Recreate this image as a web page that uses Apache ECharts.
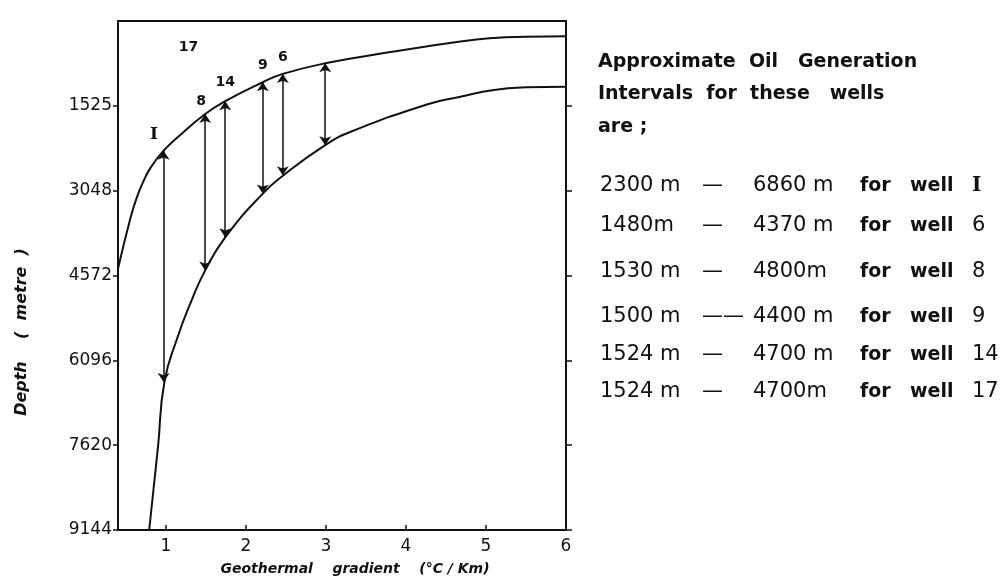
<!DOCTYPE html>
<html><head><meta charset="utf-8">
<script src="https://cdn.jsdelivr.net/npm/echarts@6/dist/echarts.min.js"></script>
<style>html,body{margin:0;padding:0;background:#fff}#c{width:1007px;height:577px}</style>
</head><body><div id="c"></div>
<script>
// ---- data ----
const xTickValues = [1, 2, 3, 4, 5, 6];
const depthTickValues = [1524, 3048, 4572, 6096, 7620, 9144];
const depthTickLabels = ['1525', '3048', '4572', '6096', '7620', '9144'];

// upper curve (top of oil generation window)
const upperX     = [0.40, 0.55, 0.63, 0.72, 0.81, 0.97, 1.16, 1.49, 1.74, 2.21, 2.46, 2.99, 3.87, 4.68, 5.10, 5.50, 6.00];
const upperDepth = [4450, 3570, 3190, 2875, 2630, 2330, 2070, 1670, 1440, 1100, 950, 760, 545, 367, 305, 282, 272];

// lower curve (base of oil generation window)
const lowerX     = [0.79, 0.90, 0.98, 1.14, 1.32, 1.49, 1.74, 2.21, 2.47, 2.99, 3.31, 4.26, 4.68, 5.10, 5.50, 6.00];
const lowerDepth = [9144, 7650, 6485, 5700, 5020, 4480, 3886, 3100, 2770, 2230, 1990, 1500, 1361, 1240, 1192, 1179];

// double arrows for the wells
const wellX      = [0.97, 1.49, 1.74, 2.21, 2.46, 2.99];
const wellTop    = [2330, 1670, 1440, 1100, 950, 760];
const wellBottom = [6485, 4480, 3886, 3100, 2770, 2230];

// well labels on the plot
const labelText  = ['I', '8', '14', '9', '6', '17'];
const labelX     = [0.85, 1.44, 1.74, 2.21, 2.46, 1.28];
const labelDepth = [2040, 1440, 1110, 800, 660, 470];

// note text
const noteHeading   = ['Approximate  Oil   Generation', 'Intervals  for  these   wells', 'are ;'];
const intervalFrom  = ['2300 m', '1480m', '1530 m', '1500 m', '1524 m', '1524 m'];
const intervalDash  = ['\u2014', '\u2014', '\u2014', '\u2014\u2014', '\u2014', '\u2014'];
const intervalTo    = ['6860 m', '4370 m', '4800m', '4400 m', '4700 m', '4700m'];
const intervalWell  = ['I', '6', '8', '9', '14', '17'];

// ---- chart ----
const INK = '#111';
const chart = echarts.init(document.getElementById('c'), null, {renderer: 'canvas'});

const upperData = upperX.map((x, i) => [x, upperDepth[i]]);
const lowerData = lowerX.map((x, i) => [x, lowerDepth[i]]);
const arrowData = wellX.map((x, i) => ({coords: [[x, wellTop[i]], [x, wellBottom[i]]]}));
const labelData = labelText.map((t, i) => ({
  name: t, value: [labelX[i], labelDepth[i]],
  label: t === 'I' ? {fontFamily: 'DejaVu Serif', fontSize: 17} : {}
}));

const graphics = [];
noteHeading.forEach((t, i) => {
  graphics.push({type: 'text', style: {text: t, x: 598, y: [62, 94, 127][i],
    font: 'bold 19px "DejaVu Sans"', fill: INK, textAlign: 'left', textVerticalAlign: 'middle'}});
});
const lineY = [186, 226, 272, 317, 355, 392];
intervalFrom.forEach((f, i) => {
  const y = lineY[i];
  const base = {fill: INK, textAlign: 'left', textVerticalAlign: 'middle'};
  const numFont = '21px "DejaVu Sans"';
  graphics.push({type: 'text', style: Object.assign({text: f, x: 600, y, font: numFont}, base)});
  graphics.push({type: 'text', style: Object.assign({text: intervalDash[i], x: 702, y, font: numFont}, base)});
  graphics.push({type: 'text', style: Object.assign({text: intervalTo[i], x: 753, y, font: numFont}, base)});
  graphics.push({type: 'text', style: Object.assign({text: 'for', x: 860, y, font: 'bold 19px "DejaVu Sans"'}, base)});
  graphics.push({type: 'text', style: Object.assign({text: 'well', x: 910, y, font: 'bold 19px "DejaVu Sans"'}, base)});
  graphics.push({type: 'text', style: Object.assign({text: intervalWell[i], x: 972, y,
    font: intervalWell[i] === 'I' ? 'bold 20px "DejaVu Serif"' : numFont}, base)});
});
// axis names
graphics.push({type: 'text', x: 22, y: 332, rotation: Math.PI / 2,
  style: {text: 'Depth    (  metre  )', x: 0, y: 0, font: 'italic bold 16px "DejaVu Sans"', fill: INK,
    textAlign: 'center', textVerticalAlign: 'middle'}});
graphics.push({type: 'text', style: {text: 'Geothermal    gradient    (\u00B0C / Km)', x: 355, y: 569,
  font: 'italic bold 14px "DejaVu Sans"', fill: INK, textAlign: 'center', textVerticalAlign: 'middle'}});

const axisLineStyle = {color: INK, width: 2};
const tickStyle = {color: INK, width: 1.5};

chart.setOption({
  backgroundColor: '#fff',
  animation: false,
  grid: {left: 118, right: 441, top: 21, bottom: 47, show: true, borderColor: INK, borderWidth: 2,
    containLabel: false, outerBoundsMode: 'none'},
  xAxis: [
    {type: 'value', min: 0.4, max: 6, position: 'bottom',
      axisLine: {show: true, onZero: false, lineStyle: axisLineStyle},
      axisTick: {show: true, inside: true, length: 5, customValues: xTickValues, lineStyle: tickStyle},
      axisLabel: {show: true, customValues: xTickValues, fontSize: 17, color: INK, margin: 8,
        fontFamily: 'DejaVu Sans'},
      splitLine: {show: false}},
    {type: 'value', min: 0.4, max: 6, position: 'top',
      axisLine: {show: true, onZero: false, lineStyle: axisLineStyle},
      axisTick: {show: false}, axisLabel: {show: false}, splitLine: {show: false}}
  ],
  yAxis: [
    {type: 'value', inverse: true, min: 0, max: 9144, position: 'left',
      axisLine: {show: true, onZero: false, lineStyle: axisLineStyle},
      axisTick: {show: true, inside: false, length: 5, customValues: depthTickValues, lineStyle: tickStyle},
      axisLabel: {show: true, customValues: depthTickValues, fontSize: 17, color: INK, margin: 6,
        fontFamily: 'DejaVu Sans',
        formatter: v => { const k = depthTickValues.indexOf(v); return k >= 0 ? depthTickLabels[k] : ''; }},
      splitLine: {show: false}},
    {type: 'value', inverse: true, min: 0, max: 9144, position: 'right',
      axisLine: {show: true, onZero: false, lineStyle: axisLineStyle},
      axisTick: {show: true, inside: false, length: 6, customValues: depthTickValues, lineStyle: tickStyle},
      axisLabel: {show: false}, splitLine: {show: false}}
  ],
  graphic: graphics,
  series: [
    {type: 'line', name: 'upper', data: upperData, smooth: 0.5, showSymbol: false, symbol: 'none',
      lineStyle: {color: INK, width: 2}, z: 3},
    {type: 'line', name: 'lower', data: lowerData, smooth: 0.5, showSymbol: false, symbol: 'none',
      lineStyle: {color: INK, width: 2}, z: 3},
    {type: 'lines', coordinateSystem: 'cartesian2d', data: arrowData,
      symbol: ['arrow', 'arrow'], symbolSize: [9, 9],
      lineStyle: {color: INK, width: 1.5, opacity: 1, curveness: 0}, z: 4},
    {type: 'scatter', data: labelData, symbolSize: 0.1, itemStyle: {color: INK, opacity: 1},
      label: {show: true, position: 'inside', formatter: p => p.name, color: INK, opacity: 1,
        textBorderWidth: 0, fontSize: 14, fontWeight: 'bold', fontFamily: 'DejaVu Sans'}, z: 5}
  ]
});
</script></body></html>
